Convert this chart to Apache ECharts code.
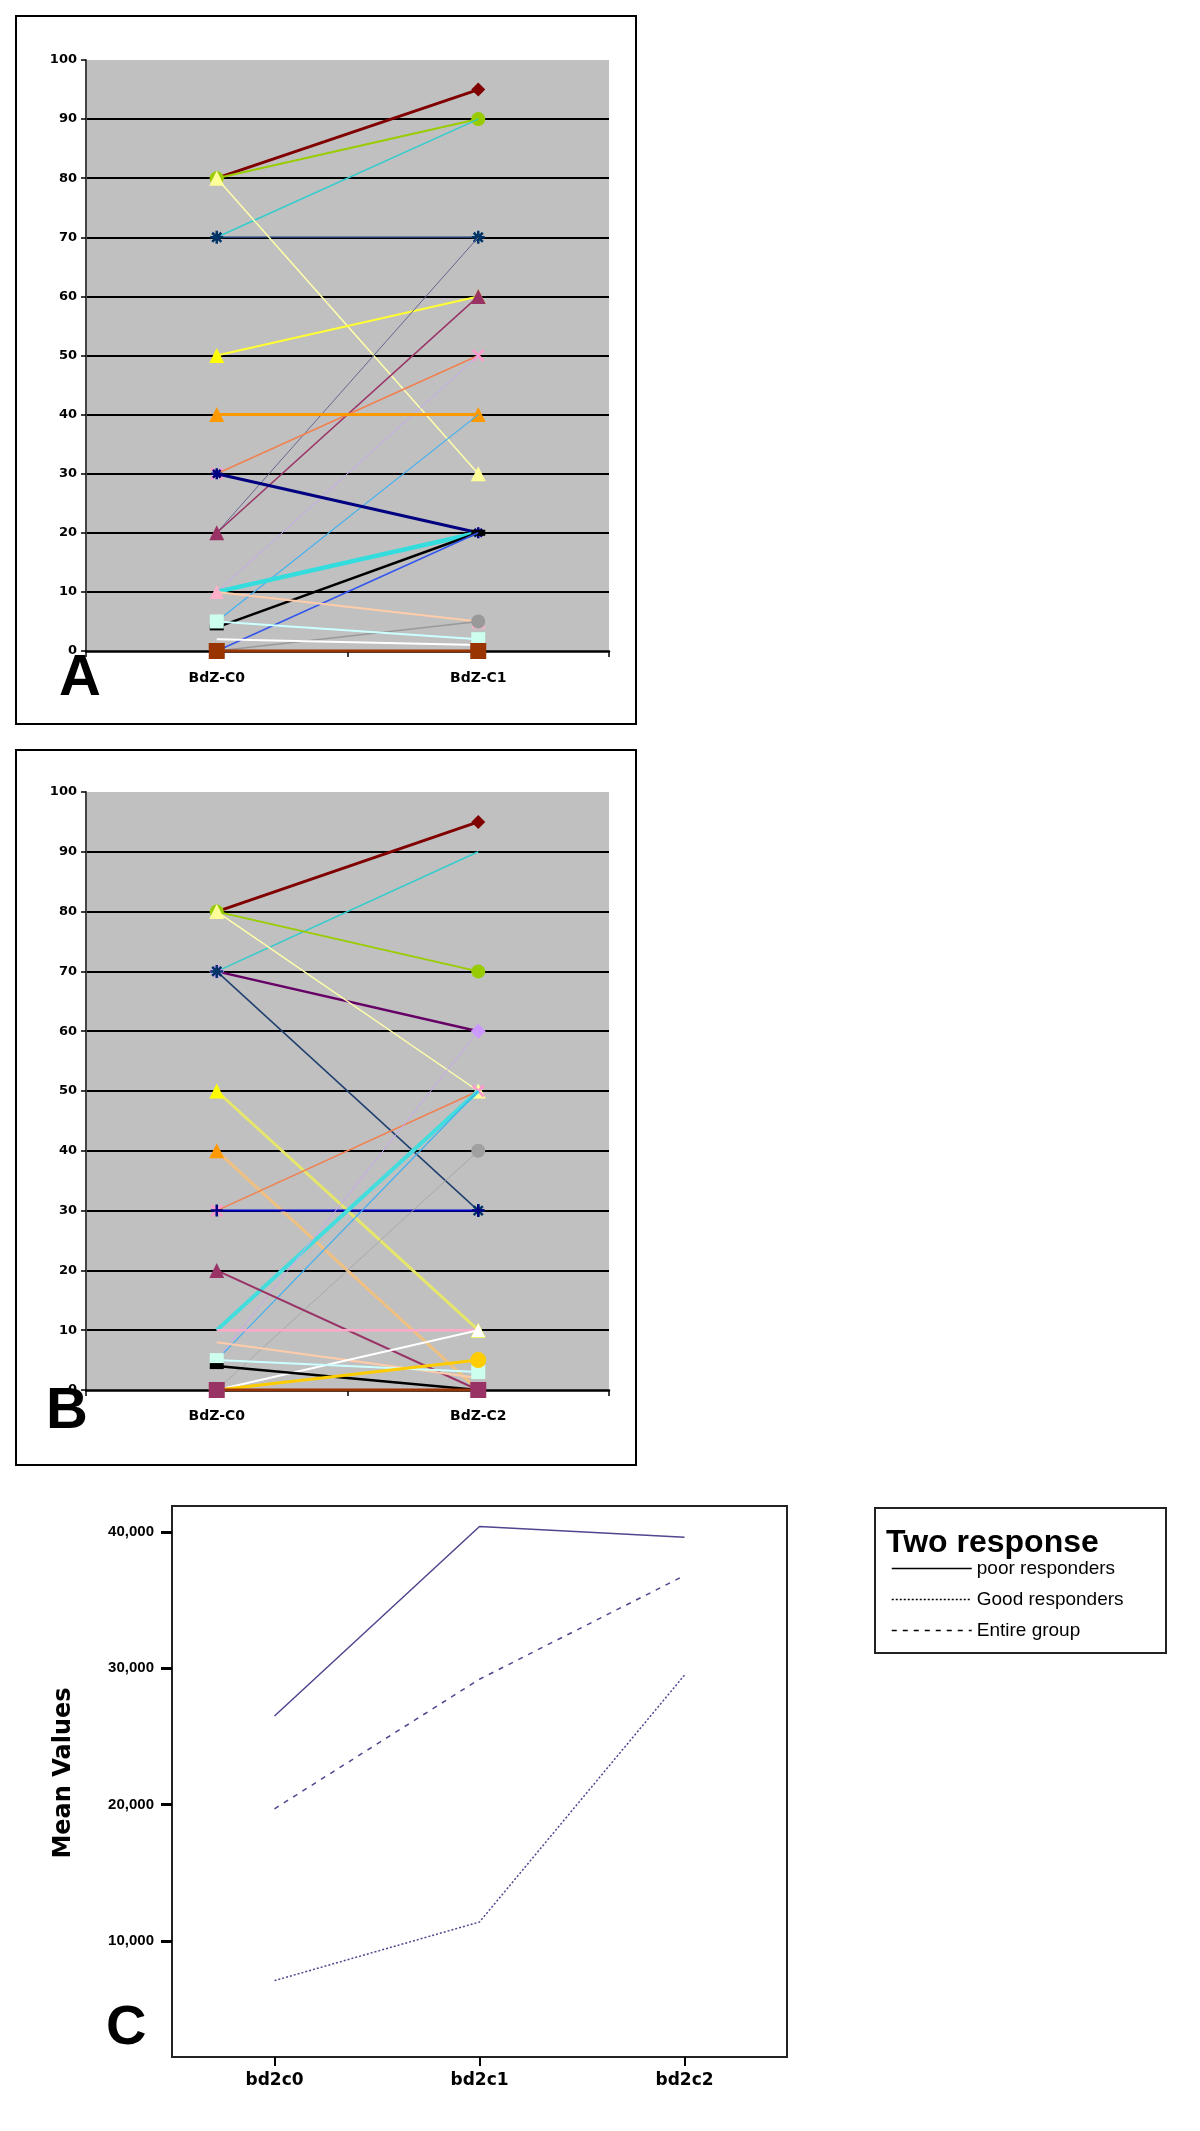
<!DOCTYPE html>
<html>
<head>
<meta charset="utf-8">
<script src="https://cdn.jsdelivr.net/npm/echarts@6/dist/echarts.min.js"></script>
<style>
html,body{margin:0;padding:0;background:#fff;}
#main{width:1200px;height:2131px;}
</style>
</head>
<body>
<div id="main"></div>
<script>
// ---------- DATA ----------
const catsA = ['BdZ-C0', 'BdZ-C1'];
const startA = [80, 80, 70, 70, 80, 50, 20, 20, 30, 10, 40, 5, 30, 10, 4, 0, 10, 0, 5, 2, 0];
const endA   = [95, 90, 90, 70, 30, 60, 70, 60, 50, 50, 40, 40, 20, 20, 20, 20, 5, 5, 2, 1, 0];

const catsB = ['BdZ-C0', 'BdZ-C2'];
const startB = [80, 70, 80, 70, 80, 70, 50, 40, 30, 30, 10, 5, 5, 0, 20, 10, 8, 0, 5, 4, 0, 0];
const endB   = [95, 90, 70, 60, 50, 30, 10, 0, 50, 30, 50, 50, 60, 40, 0, 10, 2, 10, 3, 0, 5, 0];

const yTicksAB = [0, 10, 20, 30, 40, 50, 60, 70, 80, 90, 100];

const catsC = ['bd2c0', 'bd2c1', 'bd2c2'];
const seriesNamesC = ['poor responders', 'Good responders', 'Entire group'];
const poorC = [26500, 40400, 39600];
const goodC = [7100, 11400, 29500];
const entireC = [19700, 29200, 36800];
const yTicksC = [10000, 20000, 30000, 40000];

// ---------- STYLES ----------
const AST = 'path://M5,0L5,10M0,5L10,5M1.5,1.5L8.5,8.5M1.5,8.5L8.5,1.5';
const XMK = 'path://M0,0L10,10M0,10L10,0';
const PLS = 'path://M5,0L5,10M0,5L10,5';
// [line color, symbol, marker color, line width, symbol size]
const styleA = [
  ['#800000', 'diamond', '#800000', 3, 14],
  ['#99CC00', 'circle', '#99CC00', 2, 14],
  ['#33CCCC', 'none', '#33CCCC', 1.5, 0],
  ['#1F3F6F', AST, '#003366', 1.5, 13],
  ['#FFFFAA', 'triangle', '#FFFF99', 1.5, 15],
  ['#FFFF33', 'triangle', '#FFFF00', 2, 15],
  ['#66668F', 'none', '#66668F', 1, 0],
  ['#993366', 'triangle', '#993366', 1.5, 15],
  ['#F08050', XMK, '#FF99CC', 1.5, 11],
  ['#C8A8F0', 'none', '#C8A8F0', 1, 0],
  ['#FF9900', 'triangle', '#FF9900', 3, 15],
  ['#40B0F0', 'none', '#40B0F0', 1.2, 0],
  ['#000080', AST, '#000080', 3, 11],
  ['#33DDDD', 'none', '#33DDDD', 4.5, 0],
  ['#000000', 'rect', '#000000', 2.5, [14, 6]],
  ['#3355EE', 'none', '#3355EE', 1.5, 0],
  ['#FFCCAA', 'triangle', '#FFB0C8', 2, 14],
  ['#999999', 'circle', '#999999', 1.5, 14],
  ['#CCFFFF', 'rect', '#CCFFEE', 2, 14],
  ['#FFFFFF', 'none', '#FFFFFF', 2, 0],
  ['#993300', 'rect', '#993300', 3, 16]
];
const styleB = [
  ['#800000', 'diamond', '#800000', 3, 14],
  ['#33CCCC', 'none', '#33CCCC', 1.5, 0],
  ['#99CC00', 'circle', '#99CC00', 2, 14],
  ['#660066', 'diamond', '#CC99FF', 2.5, 15],
  ['#FFFFAA', 'triangle', '#FFFF99', 1.5, 15],
  ['#1F3F6F', AST, '#003366', 1.5, 13],
  ['#E6E66A', 'triangle', '#FFFF00', 3, 15],
  ['#F0C080', 'triangle', '#FF9900', 3, 15],
  ['#F08050', XMK, '#FF99CC', 1.5, 11],
  ['#0000CC', PLS, '#000080', 2, 12],
  ['#44DDDD', 'none', '#44DDDD', 4, 0],
  ['#40B0F0', 'none', '#40B0F0', 1.2, 0],
  ['#C8A8F0', 'none', '#C8A8F0', 1, 0],
  ['#A8A8A8', 'circle', '#A0A0A0', 1, 14],
  ['#993366', 'triangle', '#993366', 2, 15],
  ['#FFA8C8', 'none', '#FFA8C8', 2.5, 0],
  ['#FFCCAA', 'none', '#FFCCAA', 2, 0],
  ['#FFFFFF', 'triangle', '#FFFFFF', 2, 14],
  ['#CCFFFF', 'rect', '#CCFFEE', 2, 14],
  ['#000000', 'rect', '#000000', 2.5, [14, 6]],
  ['#FFCC00', 'circle', '#FFCC00', 3, 16],
  ['#993300', 'rect', '#993366', 3, 16]
];
const cColor = '#4F4690';

// ---------- BUILD ----------
function pairSeries(starts, ends, styles, idx) {
  return starts.map((s, i) => {
    const st = styles[i];
    const isPath = typeof st[1] === 'string' && st[1].indexOf('path://') === 0;
    return {
      type: 'line', xAxisIndex: idx, yAxisIndex: idx, silent: true,
      data: [s, ends[i]],
      symbol: st[1], symbolSize: st[4], showSymbol: st[1] !== 'none',
      lineStyle: { color: st[0], width: st[3] },
      itemStyle: { color: st[2], borderColor: st[2], borderWidth: isPath ? 2.5 : 0 },
      z: 3 + i * 0.01
    };
  });
}

const fontAB = { fontFamily: 'DejaVu Sans', fontWeight: 'bold', color: '#000' };

function abX(idx, cats, margin) {
  return {
    type: 'category', gridIndex: idx, data: cats, boundaryGap: true,
    axisLine: { show: true, lineStyle: { color: '#000', width: 2.5 } },
    axisTick: { show: true, alignWithLabel: false, length: 6, lineStyle: { color: '#000', width: 1.5 } },
    axisLabel: Object.assign({ fontSize: 14, margin: margin }, fontAB),
    splitLine: { show: false }
  };
}
function abY(idx) {
  return {
    type: 'value', gridIndex: idx, min: 0, max: 100, interval: 10,
    axisLine: { show: true, lineStyle: { color: '#444', width: 2 } },
    axisTick: { show: true, length: 5, inside: false, lineStyle: { color: '#000', width: 1.5 } },
    axisLabel: Object.assign({ fontSize: 13, margin: 9, formatter: v => yTicksAB.indexOf(v) >= 0 ? String(v) : '' }, fontAB),
    splitLine: { show: true, showMinLine: false, showMaxLine: false, lineStyle: { color: '#000', width: 2 } }
  };
}

const chart = echarts.init(document.getElementById('main'), null, { renderer: 'canvas' });

const series = []
  .concat(pairSeries(startA, endA, styleA, 0))
  .concat(pairSeries(startB, endB, styleB, 1))
  .concat([
    { type: 'line', name: seriesNamesC[0], xAxisIndex: 2, yAxisIndex: 2, data: poorC, symbol: 'none', silent: true,
      lineStyle: { color: cColor, width: 1.5, type: 'solid' } },
    { type: 'line', name: seriesNamesC[1], xAxisIndex: 2, yAxisIndex: 2, data: goodC, symbol: 'none', silent: true,
      lineStyle: { color: cColor, width: 1.5, type: [2, 2] } },
    { type: 'line', name: seriesNamesC[2], xAxisIndex: 2, yAxisIndex: 2, data: entireC, symbol: 'none', silent: true,
      lineStyle: { color: cColor, width: 1.5, type: [5, 6] } }
  ]);

chart.setOption({
  animation: false,
  backgroundColor: '#fff',
  grid: [
    { left: 86, top: 60, width: 523, height: 591, show: true, backgroundColor: '#C0C0C0', borderWidth: 0 },
    { left: 86, top: 792, width: 523, height: 598, show: true, backgroundColor: '#C0C0C0', borderWidth: 0 },
    { left: 172, top: 1506, width: 615, height: 551, show: true, backgroundColor: '#fff', borderColor: '#222', borderWidth: 2 }
  ],
  xAxis: [
    abX(0, catsA, 20),
    abX(1, catsB, 19),
    {
      type: 'category', gridIndex: 2, data: catsC, boundaryGap: true,
      axisLine: { show: false },
      axisTick: { show: true, alignWithLabel: true, length: 9, lineStyle: { color: '#000', width: 2 } },
      axisLabel: { fontSize: 17, margin: 15, fontFamily: 'DejaVu Sans', fontWeight: 'bold', color: '#000' },
      splitLine: { show: false }
    }
  ],
  yAxis: [
    abY(0),
    abY(1),
    {
      type: 'value', gridIndex: 2, min: 1500, max: 41900,
      axisLine: { show: false },
      axisTick: { show: true, length: 11, customValues: yTicksC, lineStyle: { color: '#000', width: 3 } },
      axisLabel: { show: true, customValues: yTicksC, fontSize: 15, margin: 18, fontFamily: 'Liberation Sans Narrow, Liberation Sans', fontWeight: 'bold', color: '#000',
        formatter: v => v.toLocaleString('en-US') },
      splitLine: { show: false }
    }
  ],
  legend: {
    show: true, orient: 'vertical', left: 886, top: 1554,
    data: seriesNamesC, itemWidth: 80, itemHeight: 14, itemGap: 12,
    lineStyle: { color: '#000', width: 1.5 },
    itemStyle: { color: 'rgba(0,0,0,0)', borderWidth: 0, opacity: 0 },
    textStyle: { fontSize: 19, fontFamily: 'Liberation Sans Narrow, Liberation Sans', color: '#000' }
  },
  graphic: [
    { type: 'rect', shape: { x: 16, y: 16, width: 620, height: 708 }, style: { fill: 'none', stroke: '#000', lineWidth: 2 }, z: 100 },
    { type: 'rect', shape: { x: 16, y: 750, width: 620, height: 715 }, style: { fill: 'none', stroke: '#000', lineWidth: 2 }, z: 100 },
    { type: 'rect', shape: { x: 875, y: 1508, width: 291, height: 145 }, style: { fill: 'none', stroke: '#222', lineWidth: 2 }, z: 100 },
    { type: 'text', left: 59, top: 650, style: { text: 'A', fontSize: 58, fontWeight: 'bold', fontFamily: 'Liberation Sans', fill: '#000' }, z: 100 },
    { type: 'text', left: 46, top: 1383, style: { text: 'B', fontSize: 58, fontWeight: 'bold', fontFamily: 'Liberation Sans', fill: '#000' }, z: 100 },
    { type: 'text', left: 106, top: 2001, style: { text: 'C', fontSize: 56, fontWeight: 'bold', fontFamily: 'Liberation Sans Narrow, Liberation Sans', fill: '#000' }, z: 100 },
    { type: 'text', left: 886, top: 1527, style: { text: 'Two response', fontSize: 32, fontWeight: 'bold', fontFamily: 'Liberation Sans Narrow, Liberation Sans', fill: '#000' }, z: 100 },
    { type: 'text', x: 64, y: 1773, rotation: Math.PI / 2, style: { text: 'Mean Values', fontSize: 24, fontWeight: 'bold', fontFamily: 'DejaVu Sans', fill: '#000', align: 'center', verticalAlign: 'middle' }, z: 100 }
  ],
  series: series
});
</script>
</body>
</html>
